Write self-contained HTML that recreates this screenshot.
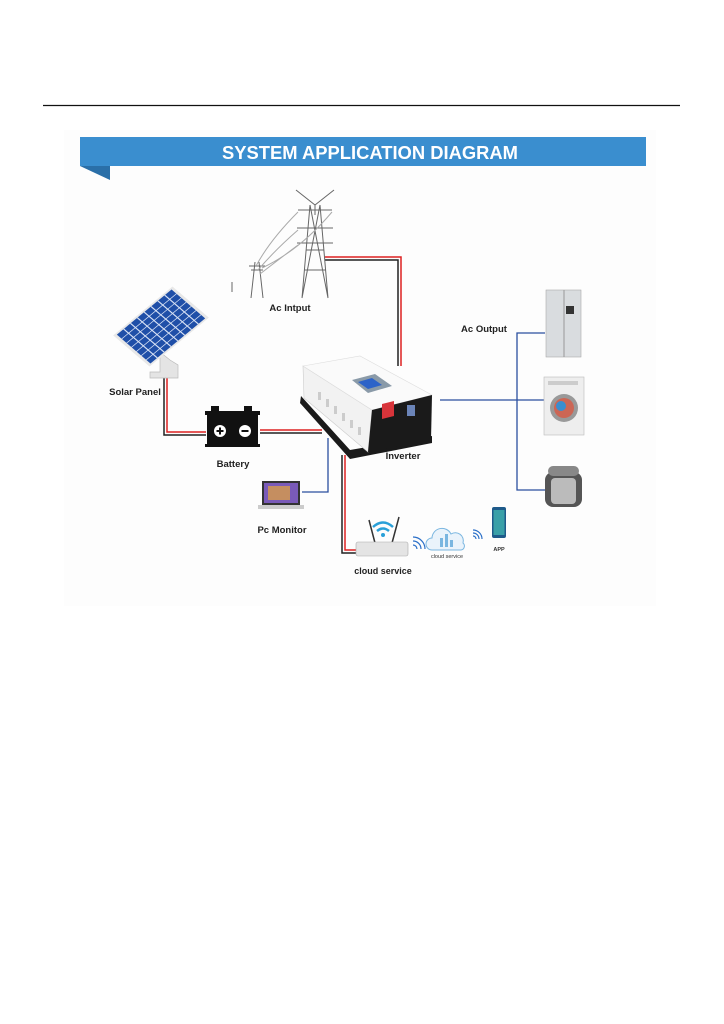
<!DOCTYPE html>
<html><head><meta charset="utf-8"><style>
html,body{margin:0;padding:0;background:#fff;}
body{width:724px;height:1024px;position:relative;overflow:hidden;font-family:"Liberation Sans",sans-serif;}
svg{position:absolute;left:0;top:0;}
</style></head><body>
<svg width="724" height="1024" viewBox="0 0 724 1024" xmlns="http://www.w3.org/2000/svg">
<line x1="43" y1="105.5" x2="680" y2="105.5" stroke="#111" stroke-width="1.2"/>
<rect x="64" y="130" width="592" height="476" fill="#fdfdfd"/>
<!-- banner -->
<polygon points="80,166 110,166 110,180" fill="#2a6fa8"/>
<rect x="80" y="137" width="566" height="29" fill="#3a8ecf"/>
<text x="370" y="159" font-size="18" font-weight="bold" fill="#fff" text-anchor="middle" font-family="Liberation Sans, sans-serif" textLength="296" lengthAdjust="spacingAndGlyphs">SYSTEM APPLICATION DIAGRAM</text>

<!-- wires -->
<g fill="none" stroke-width="1.5">
<polyline points="325,257 401,257 401,366" stroke="#d22"/>
<polyline points="325,260 398,260 398,366" stroke="#222"/>
<polyline points="167,378 167,432 206,432" stroke="#d22"/>
<polyline points="164,378 164,435 206,435" stroke="#222"/>
<line x1="260" y1="430" x2="322" y2="430" stroke="#d22"/>
<line x1="260" y1="433" x2="322" y2="433" stroke="#222"/>
<polyline points="345,455 345,550 356,550" stroke="#d22"/>
<polyline points="342,455 342,553 356,553" stroke="#222"/>
</g>
<g fill="none" stroke="#2b4fa0" stroke-width="1.3">
<line x1="440" y1="400" x2="545" y2="400"/>
<polyline points="545,333 517,333 517,490 545,490"/>
<polyline points="302,492 328,492 328,438"/>
</g>

<!-- towers -->
<g stroke="#666" stroke-width="1" fill="none">
<path d="M296,190 L315,205 L334,190 M315,205 L315,215"/>
<path d="M310,205 L302,298 M320,205 L328,298 M310,205 L328,298 M320,205 L302,298 M306,250 L324,250 M304,270 L326,270"/>
<path d="M298,210 L332,210 M297,228 L333,228 M297,243 L333,243"/>
<path d="M255,262 L251,298 M259,262 L263,298 M251,270 L263,270 M249,266 L265,266"/>
<path d="M232,282 L232,292"/>
<path d="M298,212 Q270,240 256,266 M298,230 Q275,250 258,270 M298,245 Q278,260 260,274 M332,212 Q300,250 262,268" stroke="#aaa"/>
</g>
<text x="290" y="311" font-size="9.5" font-weight="bold" fill="#222" text-anchor="middle">Ac Intput</text>

<!-- solar panel -->
<path d="M160,352 L160,372 L150,372 L150,378 L178,378 L178,365 L170,360 Z" fill="#e4e4e4" stroke="#bbb" stroke-width="0.7"/>
<g transform="matrix(0.57,-0.47,0.35,0.30,115,335)">
<rect x="-2" y="-2" width="104" height="104" fill="#e8e8e8"/>
<rect x="2" y="2" width="96" height="96" fill="#1f4fa8"/>
<g stroke="#d8e2f5" stroke-width="1.6">
<line x1="14" y1="2" x2="14" y2="98"/><line x1="26" y1="2" x2="26" y2="98"/><line x1="38" y1="2" x2="38" y2="98"/><line x1="50" y1="2" x2="50" y2="98"/><line x1="62" y1="2" x2="62" y2="98"/><line x1="74" y1="2" x2="74" y2="98"/><line x1="86" y1="2" x2="86" y2="98"/>
<line x1="2" y1="16" x2="98" y2="16"/><line x1="2" y1="30" x2="98" y2="30"/><line x1="2" y1="44" x2="98" y2="44"/><line x1="2" y1="58" x2="98" y2="58"/><line x1="2" y1="72" x2="98" y2="72"/><line x1="2" y1="86" x2="98" y2="86"/>
</g></g>
<text x="135" y="395" font-size="9.5" font-weight="bold" fill="#222" text-anchor="middle">Solar Panel</text>

<!-- battery -->
<rect x="211" y="406" width="8" height="6" fill="#111"/><rect x="244" y="406" width="8" height="6" fill="#111"/>
<rect x="205" y="411" width="55" height="4" fill="#111"/>
<rect x="207" y="415" width="51" height="30" fill="#111"/>
<rect x="205" y="444" width="55" height="3" fill="#111"/>
<circle cx="220" cy="431" r="6" fill="#fff"/><path d="M216.5,431 h7 M220,427.5 v7" stroke="#111" stroke-width="2"/>
<circle cx="245" cy="431" r="6" fill="#fff"/><path d="M241.5,431 h7" stroke="#111" stroke-width="2"/>
<text x="233" y="467" font-size="9.5" font-weight="bold" fill="#222" text-anchor="middle">Battery</text>

<!-- inverter -->
<polygon points="301,396 350,450 432,436 432,443 350,459 300,403" fill="#1a1a1a"/>
<polygon points="303,366 372,410 368,452 304,398" fill="#f2f2f2" stroke="#ccc" stroke-width="0.6"/>
<g fill="#ccc">
<rect x="318" y="392" width="3" height="8"/><rect x="326" y="399" width="3" height="8"/><rect x="334" y="406" width="3" height="8"/><rect x="342" y="413" width="3" height="8"/><rect x="350" y="420" width="3" height="8"/><rect x="358" y="427" width="3" height="8"/>
</g>
<polygon points="303,366 360,356 432,395 372,410" fill="#fafafa" stroke="#ddd" stroke-width="0.6"/>
<polygon points="372,410 432,395 431,440 368,452" fill="#1a1a1a"/>
<polygon points="352,380 375,374 392,386 368,393" fill="#8a9aa8"/>
<polygon points="358,382 372,378 382,385 368,389" fill="#2d63c8"/>
<polygon points="382,404 394,401 394,416 382,419" fill="#d8343a"/>
<rect x="407" y="405" width="8" height="11" fill="#6b84b8"/>
<text x="403" y="459" font-size="9.5" font-weight="bold" fill="#222" text-anchor="middle">Inverter</text>

<!-- ac output -->
<text x="484" y="332" font-size="9.5" font-weight="bold" fill="#222" text-anchor="middle">Ac Output</text>
<rect x="546" y="290" width="35" height="67" fill="#d9dcdf" stroke="#aaa" stroke-width="0.6"/>
<line x1="564" y1="290" x2="564" y2="357" stroke="#999"/>
<rect x="566" y="306" width="8" height="8" fill="#333"/>
<rect x="544" y="377" width="40" height="58" fill="#eee" stroke="#bbb" stroke-width="0.6"/>
<circle cx="564" cy="408" r="14" fill="#999"/><circle cx="564" cy="408" r="10" fill="#c65"/><circle cx="561" cy="406" r="5" fill="#3a8ecf"/>
<rect x="548" y="381" width="30" height="4" fill="#ccc"/>
<rect x="545" y="472" width="37" height="35" rx="8" fill="#555"/>
<rect x="548" y="466" width="31" height="10" rx="5" fill="#888"/>
<rect x="551" y="478" width="25" height="26" rx="4" fill="#bbb"/>

<!-- laptop -->
<rect x="262" y="481" width="38" height="24" fill="#333"/>
<rect x="264" y="483" width="34" height="20" fill="#7a5ab8"/>
<rect x="268" y="486" width="22" height="14" fill="#e6a43a" opacity="0.7"/>
<rect x="258" y="505" width="46" height="4" fill="#ccc"/>
<text x="282" y="533" font-size="9.5" font-weight="bold" fill="#222" text-anchor="middle">Pc Monitor</text>

<!-- router -->
<line x1="369" y1="520" x2="375" y2="543" stroke="#333" stroke-width="1.5"/>
<line x1="399" y1="517" x2="392" y2="543" stroke="#333" stroke-width="1.5"/>
<path d="M373,527 Q383,518 393,527" stroke="#2aa0d8" stroke-width="2.5" fill="none"/>
<path d="M377,531 Q383,526 389,531" stroke="#2aa0d8" stroke-width="2.5" fill="none"/>
<circle cx="383" cy="535" r="2" fill="#2aa0d8"/>
<rect x="356" y="542" width="52" height="14" rx="2" fill="#e4e4e4" stroke="#aaa" stroke-width="0.6"/>
<text x="383" y="574" font-size="9" font-weight="bold" fill="#222" text-anchor="middle">cloud service</text>
<g stroke="#2a6fc8" stroke-width="1.2" fill="none">
<path d="M413,545 a4,4 0 0 1 4,4 M413,541 a8,8 0 0 1 8,8 M413,537 a12,12 0 0 1 12,12"/>
<path d="M473,536 a3,3 0 0 1 3,3 M473,533 a6,6 0 0 1 6,6 M473,530 a9,9 0 0 1 9,9"/>
</g>
<path d="M432,550 a6,6 0 0 1 0,-12 a10,10 0 0 1 19,-4 a8,8 0 0 1 12,9 a4,4 0 0 1 -2,7 Z" fill="#eaf3fb" stroke="#7ab6e0" stroke-width="1"/>
<rect x="440" y="538" width="3" height="9" fill="#7ab6e0"/><rect x="445" y="534" width="3" height="13" fill="#7ab6e0"/><rect x="450" y="540" width="3" height="7" fill="#7ab6e0"/>
<text x="447" y="558" font-size="5.5" fill="#333" text-anchor="middle">cloud service</text>
<rect x="492" y="507" width="14" height="31" rx="2" fill="#1e5a8a"/>
<rect x="493.5" y="510" width="11" height="25" fill="#3aa0a8"/>
<text x="499" y="551" font-size="5.5" font-weight="bold" fill="#333" text-anchor="middle">APP</text>
</svg>
</body></html>
